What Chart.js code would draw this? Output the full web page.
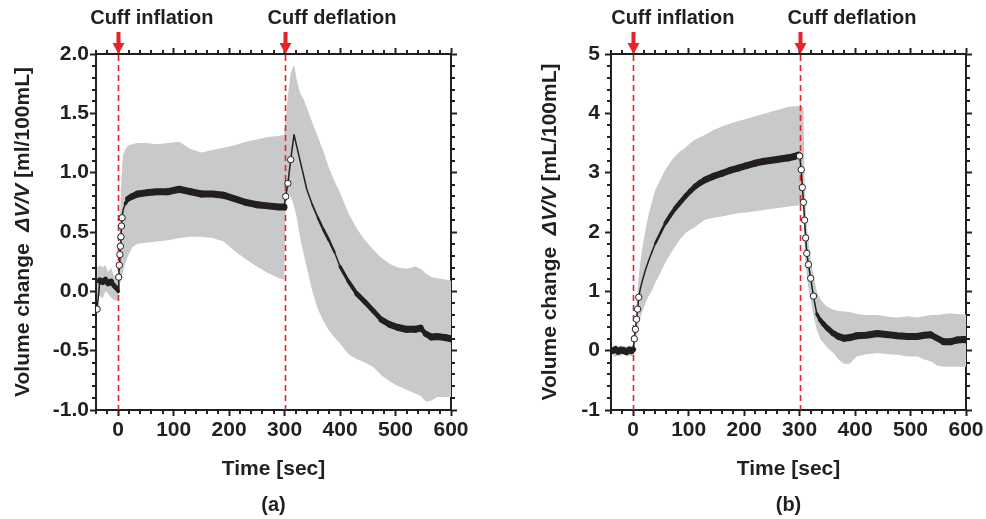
<!DOCTYPE html>
<html><head><meta charset="utf-8">
<script src="https://cdn.jsdelivr.net/npm/chart.js@4"></script>
<style>
html,body{margin:0;padding:0;background:#fff;}
#wrap{position:relative;width:986px;height:519px;overflow:hidden;}
canvas{position:absolute;top:0;}
#ca{left:0;} #cb{left:493px;}
</style></head><body>
<div id="wrap"><canvas id="ca" width="493" height="519"></canvas><canvas id="cb" width="493" height="519"></canvas></div>
<script>
// ---------- Data ----------
const eventTimes = [0, 300];
const eventLabels = ['Cuff inflation', 'Cuff deflation'];
const xTickValues = [0, 100, 200, 300, 400, 500, 600];

// Panel (a)
const timeA = [-38,-33,-28,-23,-18,-13,-8,-4,
  0,1,2,3,4,5,6,7,
  9,13,18,25,35,
  50,70,90,110,130,150,170,190,210,230,250,270,290,
  299,302,306,311,317,322,328,334,340,
  350,360,370,380,390,400,
  415,430,445,460,475,490,505,520,535,
  545,555,565,575,590,600];
const meanA = [-0.15,0.09,0.08,0.10,0.07,0.08,0.05,0.03,
  0.00,0.12,0.22,0.31,0.38,0.46,0.55,0.62,
  0.69,0.74,0.78,0.80,0.82,
  0.83,0.84,0.84,0.86,0.84,0.82,0.82,0.81,0.78,0.75,0.73,0.72,0.71,
  0.71,0.80,0.91,1.11,1.32,1.22,1.10,0.98,0.86,
  0.73,0.62,0.52,0.43,0.33,0.21,
  0.085,-0.02,-0.09,-0.165,-0.24,-0.28,-0.305,-0.32,-0.32,
  -0.31,-0.36,-0.385,-0.38,-0.39,-0.40];
const upperA = [0.20,0.22,0.20,0.22,0.16,0.20,0.14,0.11,
  0.10,0.25,0.45,0.60,0.72,0.85,0.95,1.05,
  1.15,1.20,1.23,1.24,1.25,
  1.25,1.24,1.25,1.26,1.20,1.17,1.19,1.21,1.23,1.26,1.28,1.30,1.31,
  1.32,1.45,1.65,1.84,1.91,1.78,1.67,1.62,1.55,
  1.42,1.30,1.18,1.04,0.93,0.83,
  0.66,0.53,0.43,0.35,0.28,0.23,0.20,0.19,0.21,
  0.19,0.15,0.12,0.11,0.10,0.09];
const lowerA = [-0.05,-0.04,-0.06,0.00,-0.02,-0.05,-0.07,-0.08,
  -0.08,-0.02,0.02,0.05,0.08,0.10,0.12,0.14,
  0.17,0.24,0.30,0.37,0.40,
  0.41,0.42,0.43,0.45,0.46,0.46,0.45,0.42,0.34,0.27,0.21,0.155,0.11,
  0.10,0.72,0.83,0.80,0.72,0.62,0.45,0.32,0.20,
  0.00,-0.15,-0.25,-0.33,-0.39,-0.44,
  -0.53,-0.57,-0.60,-0.64,-0.71,-0.76,-0.80,-0.83,-0.86,
  -0.88,-0.93,-0.92,-0.89,-0.89,-0.89];

// Panel (b)
const timeB = [-37,-32,-27,-22,-17,-12,-7,-3,
  0,2,4,6,8,10,13,16,
  22,28,34,40,50,58,67,76,85,94,103,112,121,130,
  145,160,175,190,205,220,235,250,265,280,290,298,
  300,303,305,307,309,311,313,316,320,325,331,337,343,350,
  361,370,380,390,403,420,440,460,476,495,512,525,536,548,560,572,584,596,600];
const meanB = [0.00,0.02,-0.02,0.01,0.00,-0.02,0.01,0.00,
  0.02,0.20,0.36,0.53,0.70,0.90,1.05,1.16,
  1.36,1.52,1.67,1.81,2.00,2.15,2.28,2.40,2.50,2.60,2.69,2.77,2.83,2.88,
  2.94,2.99,3.04,3.08,3.12,3.16,3.19,3.21,3.23,3.25,3.27,3.30,
  3.28,3.05,2.75,2.50,2.20,1.90,1.64,1.45,1.22,0.92,0.62,0.52,0.45,0.38,
  0.29,0.24,0.21,0.22,0.25,0.26,0.29,0.27,0.25,0.24,0.24,0.26,0.27,0.21,0.15,0.15,0.18,0.19,0.18];
const upperB = [0.08,0.10,0.07,0.09,0.08,0.07,0.09,0.08,
  0.10,0.30,0.50,0.75,1.00,1.25,1.50,1.70,
  2.04,2.30,2.52,2.71,2.90,3.05,3.18,3.28,3.36,3.42,3.50,3.56,3.60,3.64,
  3.72,3.78,3.83,3.87,3.91,3.95,3.99,4.03,4.07,4.11,4.12,4.12,
  4.13,4.12,4.12,4.10,2.80,2.40,2.10,1.85,1.55,1.25,1.00,0.88,0.80,0.74,
  0.69,0.67,0.66,0.65,0.62,0.60,0.60,0.57,0.56,0.58,0.56,0.58,0.60,0.60,0.62,0.63,0.62,0.61,0.61];
const lowerB = [-0.08,-0.10,-0.08,-0.09,-0.06,-0.10,-0.08,-0.09,
  -0.10,0.05,0.15,0.25,0.35,0.46,0.56,0.65,
  0.80,0.92,1.02,1.15,1.33,1.48,1.63,1.76,1.88,1.98,2.04,2.09,2.15,2.21,
  2.24,2.26,2.29,2.32,2.33,2.35,2.37,2.39,2.41,2.43,2.44,2.45,
  2.45,2.45,2.45,2.45,1.70,1.45,1.25,1.05,0.85,0.60,0.35,0.20,0.13,0.05,
  -0.04,-0.15,-0.22,-0.22,-0.10,-0.06,-0.04,-0.06,-0.07,-0.10,-0.10,-0.15,-0.18,-0.25,-0.27,-0.27,-0.27,-0.27,-0.27];

// Axis tick settings
const xRange = [-40, 600];
const yRangeA = [-1, 2], yMajorA = 0.5;
const yRangeB = [-1, 5], yMajorB = 1;

// ---------- Styling ----------
const INK = '#231f20';
const RED = '#e8232a';
const BAND = '#c7c9cb';
const FAM = '"Liberation Sans", Arial, Helvetica, sans-serif';
const TICKFONT = {family: FAM, size: 21, weight: 'bold'};

function pts(t, v) { return t.map((x, i) => ({x, y: v[i]})); }

function slopeAt(ctx) {
  const chart = ctx.chart, ds = chart.data.datasets[ctx.datasetIndex].data, i = ctx.dataIndex;
  const xs = chart.scales.x, ys = chart.scales.y;
  if (!xs || !ys || !ds[i]) return 0;
  const a = ds[Math.max(0, i - 1)], b = ds[Math.min(ds.length - 1, i + 1)];
  const dx = Math.abs(xs.getPixelForValue(b.x) - xs.getPixelForValue(a.x));
  const dy = Math.abs(ys.getPixelForValue(b.y) - ys.getPixelForValue(a.y));
  return dx ? dy / dx : 0;
}

const decor = {
  id: 'decor',
  beforeDatasetDraw(chart, args, o) {
    if (args.index !== 0) return;
    const {ctx, chartArea: ca} = chart, x = chart.scales.x;
    ctx.save();
    ctx.strokeStyle = RED; ctx.lineWidth = 1.6; ctx.setLineDash([6, 4]);
    for (const t of eventTimes) {
      const px = Math.round(x.getPixelForValue(t)) + 0.5;
      ctx.beginPath(); ctx.moveTo(px, ca.top + 1); ctx.lineTo(px, ca.bottom); ctx.stroke();
    }
    ctx.restore();
  },
  afterDraw(chart, args, o) {
    const {ctx, chartArea: ca} = chart, x = chart.scales.x, y = chart.scales.y;
    ctx.save();
    ctx.fillStyle = INK;
    // minor ticks x (every 20)
    for (let v = xRange[0]; v <= xRange[1]; v += 20) {
      if (v % 100 === 0) continue;
      const px = Math.round(x.getPixelForValue(v));
      ctx.fillRect(px - 1, ca.bottom, 2, 4);
      ctx.fillRect(px - 1, ca.top - 4, 2, 4);
    }
    // minor ticks y (5 subdivisions)
    const n = Math.round((o.yr[1] - o.yr[0]) / o.ym * 5);
    for (let k = 0; k <= n; k++) {
      if (k % 5 === 0) continue;
      const v = o.yr[0] + k * o.ym / 5;
      const py = Math.round(y.getPixelForValue(v));
      ctx.fillRect(ca.left - 4, py - 1, 4, 2);
      ctx.fillRect(ca.right, py - 1, 4, 2);
    }
    // arrows and event labels
    ctx.fillStyle = RED;
    eventTimes.forEach((t, i) => {
      const px = Math.round(x.getPixelForValue(t)) + 0.5;
      ctx.fillRect(px - 2, ca.top - 22, 4, 12);
      ctx.beginPath();
      ctx.moveTo(px - 6, ca.top - 11); ctx.lineTo(px + 6, ca.top - 11); ctx.lineTo(px, ca.top); ctx.closePath();
      ctx.fill();
    });
    ctx.fillStyle = INK;
    ctx.font = 'bold 20px ' + FAM;
    ctx.textBaseline = 'alphabetic'; ctx.textAlign = 'left';
    eventTimes.forEach((t, i) => {
      const px = x.getPixelForValue(t);
      ctx.fillText(eventLabels[i], px + o.labelOff[i], 24);
    });
    // x title and panel letter
    ctx.textAlign = 'center'; ctx.textBaseline = 'middle';
    const cx = (ca.left + ca.right) / 2;
    ctx.font = 'bold 21px ' + FAM;
    ctx.fillText('Time [sec]', cx, 469);
    ctx.font = 'bold 20px ' + FAM;
    ctx.fillText(o.panel, cx, 505);
    // y title with italic part
    const parts = [
      {t: 'Volume change  ', f: 'bold 21px ' + FAM},
      {t: '\u0394V/V', f: 'italic bold 21px ' + FAM},
      {t: ' ' + o.unit, f: 'bold 21px ' + FAM}
    ];
    ctx.save();
    ctx.translate(o.yTitleX, (ca.top + ca.bottom) / 2);
    ctx.rotate(-Math.PI / 2);
    const w = parts.map(p => { ctx.font = p.f; return ctx.measureText(p.t).width; });
    let xx = -w.reduce((a, b) => a + b, 0) / 2;
    ctx.textAlign = 'left';
    parts.forEach((p, i) => { ctx.font = p.f; ctx.fillText(p.t, xx, 0); xx += w[i]; });
    ctx.restore();
    ctx.restore();
  }
};

function makeChart(id, t, m, up, lo, yr, ym, fmt, dims, o) {
  const gridOpts = {drawOnChartArea: false, drawTicks: true, tickLength: 6, tickWidth: 2, tickColor: INK};
  const borderOpts = {display: true, width: 2, color: INK};
  const setXTicks = s => { s.ticks = xTickValues.map(v => ({value: v})); };
  return new Chart(document.getElementById(id), {
    type: 'line',
    data: {
      datasets: [
        {
          data: pts(t, m), borderColor: INK, backgroundColor: '#fff',
          pointRadius: c => slopeAt(c) > 5 ? 3.2 : 0,
          pointBorderColor: INK, pointBackgroundColor: '#fff', pointBorderWidth: 1,
          segment: {
            borderWidth: c => {
              const s = Math.abs(c.p1.y - c.p0.y) / Math.max(0.01, Math.abs(c.p1.x - c.p0.x));
              return Math.max(1.5, Math.min(7, 7.5 - 2.4 * s));
            }
          },
          borderWidth: 7, borderCapStyle: 'round', borderJoinStyle: 'round', tension: 0, fill: false
        },
        {data: pts(t, up), borderWidth: 0, pointRadius: 0, borderColor: BAND, fill: false},
        {data: pts(t, lo), borderWidth: 0, pointRadius: 0, borderColor: BAND, backgroundColor: BAND, fill: '-1'}
      ]
    },
    options: {
      responsive: false, animation: false, devicePixelRatio: 1,
      layout: {padding: 0},
      plugins: {legend: {display: false}, tooltip: {enabled: false}, decor: o},
      scales: {
        x: {
          type: 'linear', position: 'bottom', min: xRange[0], max: xRange[1],
          ticks: {font: TICKFONT, color: INK, padding: 2, maxRotation: 0, autoSkip: false},
          afterBuildTicks: setXTicks,
          grid: gridOpts, border: borderOpts,
          afterFit: s => { s.height = dims.bottom; }
        },
        x2: {
          type: 'linear', axis: 'x', position: 'top', min: xRange[0], max: xRange[1],
          ticks: {display: false},
          afterBuildTicks: setXTicks,
          grid: gridOpts, border: borderOpts,
          afterFit: s => { s.height = dims.top; }
        },
        y: {
          type: 'linear', position: 'left', min: yr[0], max: yr[1],
          ticks: {stepSize: ym, font: TICKFONT, color: INK, padding: dims.ypad, callback: fmt},
          grid: gridOpts, border: borderOpts,
          afterFit: s => { s.width = dims.left; }
        },
        y2: {
          type: 'linear', axis: 'y', position: 'right', min: yr[0], max: yr[1],
          ticks: {display: false, stepSize: ym},
          grid: gridOpts, border: borderOpts,
          afterFit: s => { s.width = dims.right; }
        }
      }
    },
    plugins: [decor]
  });
}

makeChart('ca', timeA, meanA, upperA, lowerA, yRangeA, yMajorA, v => Number(v).toFixed(1),
  {left: 96, right: 42, top: 54, bottom: 109, ypad: 1},
  {panel: '(a)', unit: '[ml/100mL]', yTitleX: 23, labelOff: [-28, -17], yr: yRangeA, ym: yMajorA});
makeChart('cb', timeB, meanB, upperB, lowerB, yRangeB, yMajorB, v => String(v),
  {left: 118, right: 20, top: 54, bottom: 109, ypad: 5},
  {panel: '(b)', unit: '[mL/100mL]', yTitleX: 57, labelOff: [-22, -12], yr: yRangeB, ym: yMajorB});
</script>
</body></html>
